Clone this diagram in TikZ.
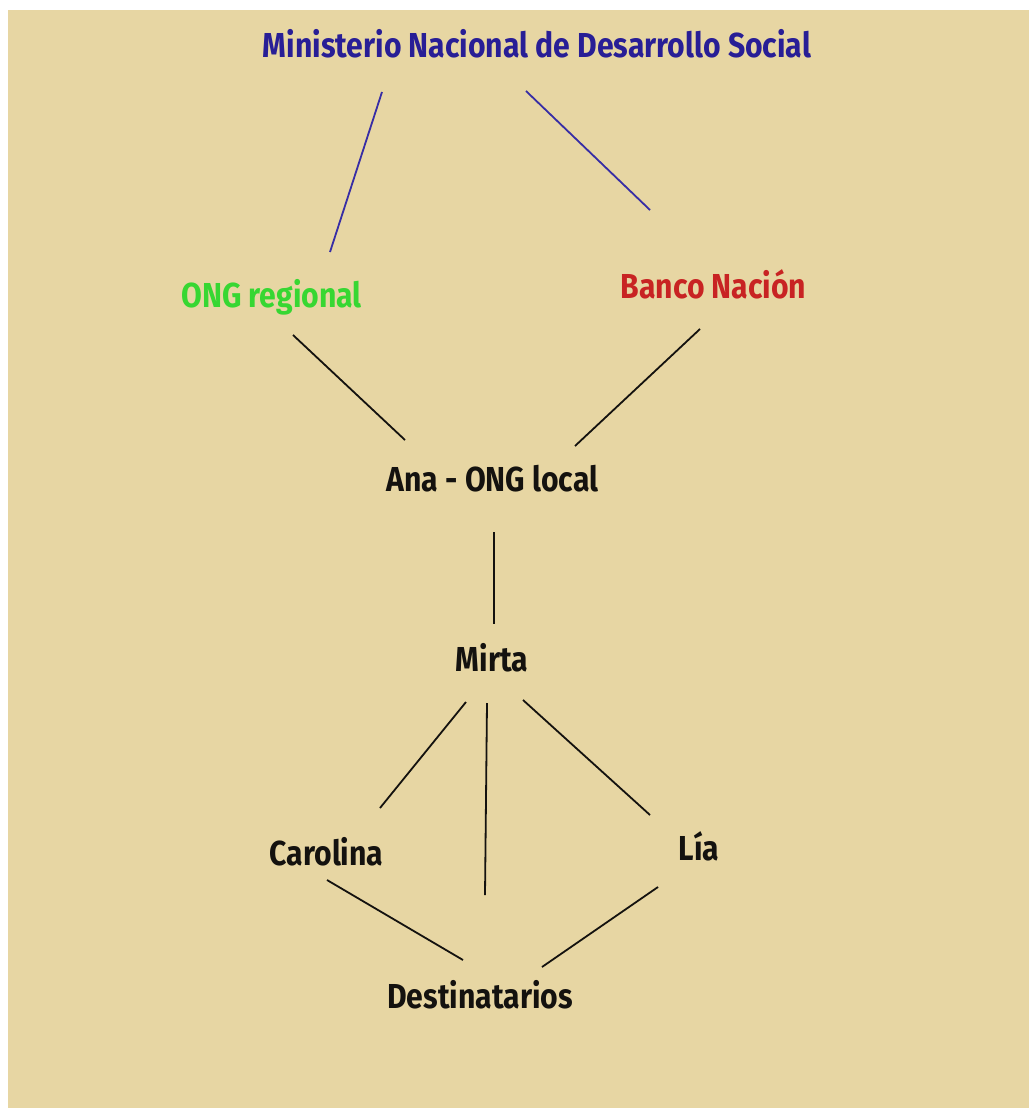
\documentclass[tikz,border=0pt]{standalone}
\usepackage{fontspec}
\newfontfamily\diagfont{Fira Sans}[FakeStretch=0.87]
\usetikzlibrary{calc}
\definecolor{bgbeige}{RGB}{231,214,163}
\definecolor{minblue}{RGB}{40,30,150}
\definecolor{linkblue}{RGB}{55,45,165}
\definecolor{onggreen}{RGB}{55,215,50}
\definecolor{bancored}{RGB}{200,35,35}
\definecolor{inkblack}{RGB}{20,18,15}
\tikzset{
  lbl/.style={inner sep=0pt, anchor=base, font=\diagfont\bfseries\fontsize{26}{30}\selectfont},
  link/.style={line width=1.35pt, draw=inkblack},
  bluelink/.style={line width=1.35pt, draw=linkblue}
}
\begin{document}
\begin{tikzpicture}[x=0.75pt,y=-0.75pt]
\useasboundingbox (0,0) rectangle (1029,1110);
\fill[white] (0,0) rectangle (1029,1110);
\fill[bgbeige] (8,10) rectangle (1029,1108);

\node[lbl, text=minblue] (min) at (537,57) {Ministerio Nacional de Desarrollo Social};
\node[lbl, text=onggreen] (ongr) at (271.5,307) {ONG regional};
\node[lbl, text=bancored] (banco) at (713.5,298) {Banco Nación};
\node[lbl, text=inkblack] (ana) at (492.5,491) {Ana - ONG local};
\node[lbl, text=inkblack] (mirta) at (492,671) {Mirta};
\node[lbl, text=inkblack] (carolina) at (326.5,865) {Carolina};
\node[lbl, text=inkblack] (lia) at (699,860) {Lía};
\node[lbl, text=inkblack] (dest) at (480,1008) {Destinatarios};

\draw[bluelink] ($(min.base)+(-155,35)$) -- ($(ongr.base)+(58.5,-55)$);
\draw[bluelink] ($(min.base)+(-11,34)$) -- ($(banco.base)+(-63.5,-88)$);
\draw[link] ($(ongr.base)+(21.5,28)$) -- ($(ana.base)+(-87.5,-51)$);
\draw[link] ($(banco.base)+(-13.5,31)$) -- ($(ana.base)+(82.5,-45)$);
\draw[link] ($(ana.base)+(1.5,41)$) -- ($(mirta.base)+(2,-47)$);
\draw[link] ($(mirta.base)+(-26,31)$) -- ($(carolina.base)+(53.5,-57)$);
\draw[link] ($(mirta.base)+(-5,32)$) -- ($(dest.base)+(5,-113)$);
\draw[link] ($(mirta.base)+(31,29)$) -- ($(lia.base)+(-49,-45)$);
\draw[link] ($(carolina.base)+(0.5,15)$) -- ($(dest.base)+(-17,-48)$);
\draw[link] ($(lia.base)+(-41,27)$) -- ($(dest.base)+(62,-41)$);
\end{tikzpicture}
\end{document}
